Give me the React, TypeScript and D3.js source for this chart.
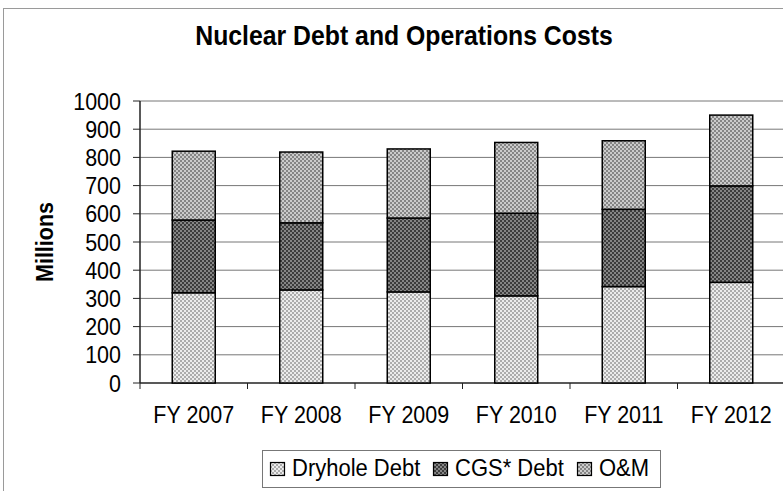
import React from "react";
import * as d3 from "d3";

const categories = ["FY 2007", "FY 2008", "FY 2009", "FY 2010", "FY 2011", "FY 2012"];
const seriesNames = ["Dryhole Debt", "CGS* Debt", "O&M"];
const dryhole = [320, 330, 323, 309, 342, 357];
const cgsDebt = [258, 238, 262, 293, 274, 342];
const om = [244, 251, 245, 251, 243, 251];
const yTicks = [0, 100, 200, 300, 400, 500, 600, 700, 800, 900, 1000];

const W = 783;
const H = 491;
const FONT = "'Liberation Sans', Arial, Helvetica, sans-serif";
const SY = 1.12;

const patterns = [
  { id: "pDry", a: "#ececec", b: "#acacac" },
  { id: "pCgs", a: "#858585", b: "#3c3c3c" },
  { id: "pOm", a: "#cbcbcb", b: "#858585" },
];

function T(props: any) {
  const { x, y, children, ...rest } = props;
  return (
    <text transform={`translate(${x},${y}) scale(1,${SY})`} {...rest}>
      {children}
    </text>
  );
}

export default function App() {
  const plotLeft = 140;
  const plotTop = 101;
  const plotBottom = 383;
  const step = 107.5;
  const plotRight = plotLeft + step * categories.length;

  const x = d3
    .scaleBand<string>()
    .domain(categories)
    .range([plotLeft, plotRight])
    .paddingInner(0.6)
    .paddingOuter(0.3);
  const y = d3.scaleLinear().domain([0, 1000]).range([plotBottom, plotTop]);

  const rows = categories.map((c, i) => ({ cat: c, dry: dryhole[i], cgs: cgsDebt[i], om: om[i] }));
  const stack = d3.stack<any>().keys(["dry", "cgs", "om"]);
  const layers = stack(rows);

  const legendFont = 22;
  const legendBox = { x: 262, y: 450, w: 398, h: 37 };
  const textWidths = [128, 109, 50];
  let cursor = 270;
  const legendItems = seriesNames.map((n, i) => {
    const item = { name: n, x: cursor, pat: patterns[i].id };
    cursor += 15 + 7 + textWidths[i] + 13;
    return item;
  });

  return (
    <svg
      width={W}
      height={H}
      style={{ position: "absolute", left: 0, top: 0, background: "#fff" }}
      fontFamily={FONT}
    >
      <defs>
        {patterns.map((p) => (
          <pattern key={p.id} id={p.id} width={4} height={4} patternUnits="userSpaceOnUse">
            <rect width={4} height={4} fill={p.a} />
            <rect width={2} height={2} fill={p.b} />
            <rect x={2} y={2} width={2} height={2} fill={p.b} />
          </pattern>
        ))}
      </defs>

      <rect x={3.5} y={8.5} width={W + 10} height={H + 10} fill="none" stroke="#9a9a9a" strokeWidth={1} />

      <T x={404} y={45} textAnchor="middle" fontSize={24.8} fontWeight="bold" fill="#000">
        Nuclear Debt and Operations Costs
      </T>

      {yTicks.map((t) => (
        <line
          key={"g" + t}
          x1={plotLeft}
          x2={plotRight}
          y1={y(t)}
          y2={y(t)}
          stroke={t === 0 ? "#222" : "#777"}
          strokeWidth={t === 0 ? 1.5 : 1}
        />
      ))}

      <line x1={plotLeft} x2={plotLeft} y1={plotTop} y2={plotBottom} stroke="#222" strokeWidth={1.5} />
      {yTicks.map((t) => (
        <g key={"yt" + t}>
          <line x1={plotLeft - 7} x2={plotLeft} y1={y(t)} y2={y(t)} stroke="#222" strokeWidth={1} />
          <T x={121} y={y(t) + 8.5} textAnchor="end" fontSize={21.5} fill="#000">
            {t}
          </T>
        </g>
      ))}

      {categories.map((c, i) => (
        <line
          key={"xt" + c}
          x1={plotLeft + i * step}
          x2={plotLeft + i * step}
          y1={plotBottom}
          y2={plotBottom + 6}
          stroke="#222"
          strokeWidth={1}
        />
      ))}

      {layers.map((layer, li) => (
        <g key={"l" + li}>
          {layer.map((d: any, i: number) => (
            <rect
              key={i}
              x={x(categories[i])}
              y={y(d[1])}
              width={x.bandwidth()}
              height={y(d[0]) - y(d[1])}
              fill={`url(#${patterns[li].id})`}
              stroke="#000"
              strokeWidth={1.5}
            />
          ))}
        </g>
      ))}

      {categories.map((c) => (
        <T
          key={"xl" + c}
          x={(x(c) as number) + x.bandwidth() / 2}
          y={423}
          textAnchor="middle"
          fontSize={21.5}
          fill="#000"
        >
          {c}
        </T>
      ))}

      <text
        transform={`translate(53, 242) rotate(-90) scale(1,${SY})`}
        textAnchor="middle"
        fontSize={21.5}
        fontWeight="bold"
        fill="#000"
      >
        Millions
      </text>

      <rect
        x={legendBox.x + 0.5}
        y={legendBox.y + 0.5}
        width={legendBox.w}
        height={legendBox.h}
        fill="#fff"
        stroke="#777"
        strokeWidth={1}
      />
      {legendItems.map((it) => (
        <g key={it.name}>
          <rect x={it.x + 0.5} y={462.5} width={14} height={13} fill={`url(#${it.pat})`} stroke="#000" strokeWidth={1.2} />
          <T x={it.x + 22} y={476} fontSize={legendFont} fill="#000">
            {it.name}
          </T>
        </g>
      ))}
    </svg>
  );
}
